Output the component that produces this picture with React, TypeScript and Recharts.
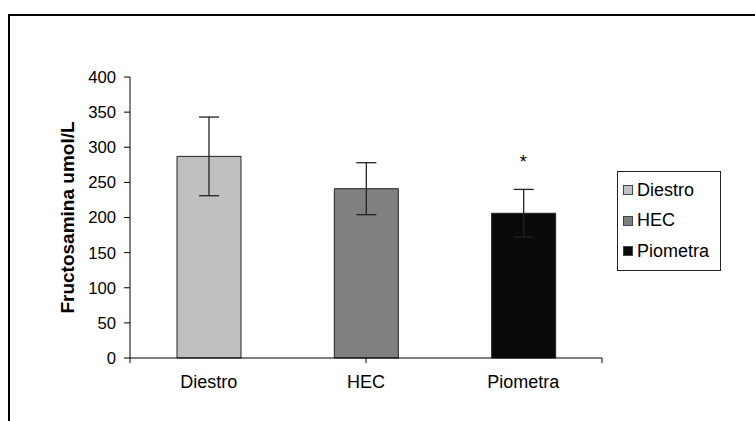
import React from "react";
import { Bar, Cell, ComposedChart, ErrorBar, ReferenceDot, XAxis, YAxis } from "recharts";

const groups = ["Diestro", "HEC", "Piometra"];
const means = [287, 241, 206];
const errors = [56, 37, 34];
const marks = ["", "", "*"];
const markValues = [0, 0, 279];
const fills = ["#C0C0C0", "#808080", "#0A0A0A"];
const yTicks = [0, 50, 100, 150, 200, 250, 300, 350, 400];
const edgeTicks = [0, 1, 2, 3];

const data = groups.map((g, i) => ({ group: g, mean: means[i], err: errors[i] }));

const font = '"Liberation Sans", Arial, sans-serif';

function LegendBox() {
  return (
    <div
      style={{
        position: "absolute",
        left: 617,
        top: 171,
        width: 92,
        border: "1px solid #222",
        background: "#fff",
        padding: "3px 5px 3px 5px",
        fontFamily: font,
        fontSize: 18,
        color: "#000",
      }}
    >
      {groups.map((g, i) => (
        <div key={g} style={{ display: "flex", alignItems: "center", height: 30.5 }}>
          <span
            style={{
              display: "inline-block",
              width: 8,
              height: 8,
              background: fills[i],
              border: "1px solid #444",
              marginRight: 4,
            }}
          />
          <span>{g}</span>
        </div>
      ))}
    </div>
  );
}

export default function App() {
  return (
    <div style={{ position: "absolute", left: 0, top: 0, width: 755, height: 421, overflow: "hidden", background: "#fff" }}>
      <div
        style={{
          position: "absolute",
          left: 8,
          top: 14,
          width: 800,
          height: 500,
          borderTop: "2px solid #000",
          borderLeft: "2px solid #000",
        }}
      />
      <div style={{ position: "absolute", left: 0, top: 0 }}>
        <ComposedChart width={755} height={421} data={data} margin={{ top: 77, right: 153, bottom: 28, left: 70 }}>
          <XAxis
            xAxisId="a_edges"
            type="number"
            domain={[0, 3]}
            ticks={edgeTicks}
            allowDataOverflow
            tickFormatter={() => ""}
            tickSize={5}
            height={5}
            stroke="#000"
            axisLine={{ stroke: "#000" }}
            tickLine={{ stroke: "#000" }}
          />
          <XAxis
            xAxisId="b_cat"
            dataKey="group"
            axisLine={false}
            tickLine={false}
            tickMargin={6}
            height={30}
            tick={{ fill: "#000", fontSize: 18, fontFamily: font }}
          />
          <YAxis
            domain={[0, 400]}
            ticks={yTicks}
            width={60}
            tickSize={6}
            tickMargin={8}
            stroke="#000"
            tick={{ fill: "#000", fontSize: 16.7, fontFamily: font }}
            label={{
              value: "Fructosamina umol/L",
              angle: -90,
              position: "insideLeft",
              dx: -8,
              style: { textAnchor: "middle", fontWeight: "bold", fontSize: 19, fontFamily: font, fill: "#000" },
            }}
          />
          <Bar xAxisId="b_cat" dataKey="mean" barSize={64} stroke="#222" strokeWidth={1} isAnimationActive={false}>
            {data.map((d, i) => (
              <Cell key={d.group} fill={fills[i]} />
            ))}
            <ErrorBar dataKey="err" width={10} stroke="#222" strokeWidth={1.3} isAnimationActive={false} />
          </Bar>
          {groups.map((g, i) =>
            marks[i] ? (
              <ReferenceDot
                key={g}
                xAxisId="b_cat"
                x={g}
                y={markValues[i]}
                r={0}
                stroke="none"
                label={{ value: marks[i], position: "center", fill: "#000", fontSize: 18, fontFamily: font }}
              />
            ) : null
          )}
        </ComposedChart>
      </div>
      <LegendBox />
    </div>
  );
}
